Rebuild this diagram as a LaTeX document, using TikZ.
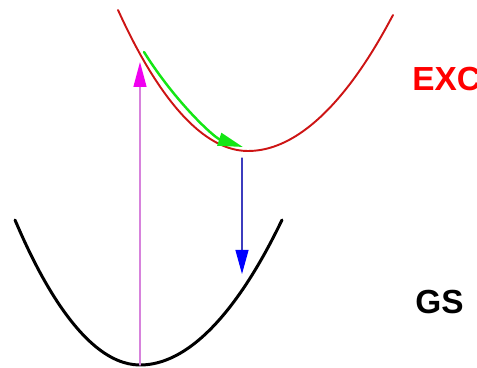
\documentclass[tikz,border=0pt]{standalone}
\usepackage{fontspec}
\setmainfont{Liberation Sans}
\usetikzlibrary{arrows.meta}
\definecolor{excred}{RGB}{205,20,20}
\definecolor{pumpline}{RGB}{215,130,220}
\definecolor{pumphead}{RGB}{240,0,240}
\definecolor{emitline}{RGB}{60,60,190}
\definecolor{relaxgreen}{RGB}{20,230,20}
\tikzstyle{every node}=[font=\bfseries\fontsize{19}{21}\selectfont,inner sep=0pt]
\tikzstyle{every path}=[line cap=round,line join=round]
\begin{document}
\begin{tikzpicture}[x=0.02cm,y=0.02cm]
		\tikzstyle{arrow} = [-{Triangle[length=5mm, width=2.6mm]}]
		\useasboundingbox (0,0) rectangle (477,368);
		
		% potential curves
		\draw[excred,line width=1.1pt] (118,358) parabola bend (248,217) (393,353);
		\draw[black,line width=1.7pt] (15,148) parabola bend (140,3) (282,148);
		
		\coordinate (gsmin) at (140,3);
		\coordinate (pumptop) at (140,306);
		\coordinate (excmin) at (242,210);
		\coordinate (emitend) at (242,94);
		\coordinate (relaxstart) at (144,316);
		\coordinate (relaxend) at (243,221);
		
		% transitions
		\draw[pumpline,line width=0.8pt,-{Triangle[length=5mm, width=2.6mm, color=pumphead]}] (gsmin) -- (pumptop);
		\draw[emitline,line width=0.6pt,-{Triangle[length=4.8mm, width=2.6mm, color=blue]}] (excmin) -- (emitend);
		\draw[arrow,relaxgreen,line width=1.4pt] (relaxstart) .. controls (176,265) and (214.5,230.3) .. (relaxend);
		
		\node[red,anchor=west] (exc) at (412,289) {EXC};
		\node[black,anchor=west] (gs) at (415,66) {GS};
		
	\end{tikzpicture}
\end{document}
